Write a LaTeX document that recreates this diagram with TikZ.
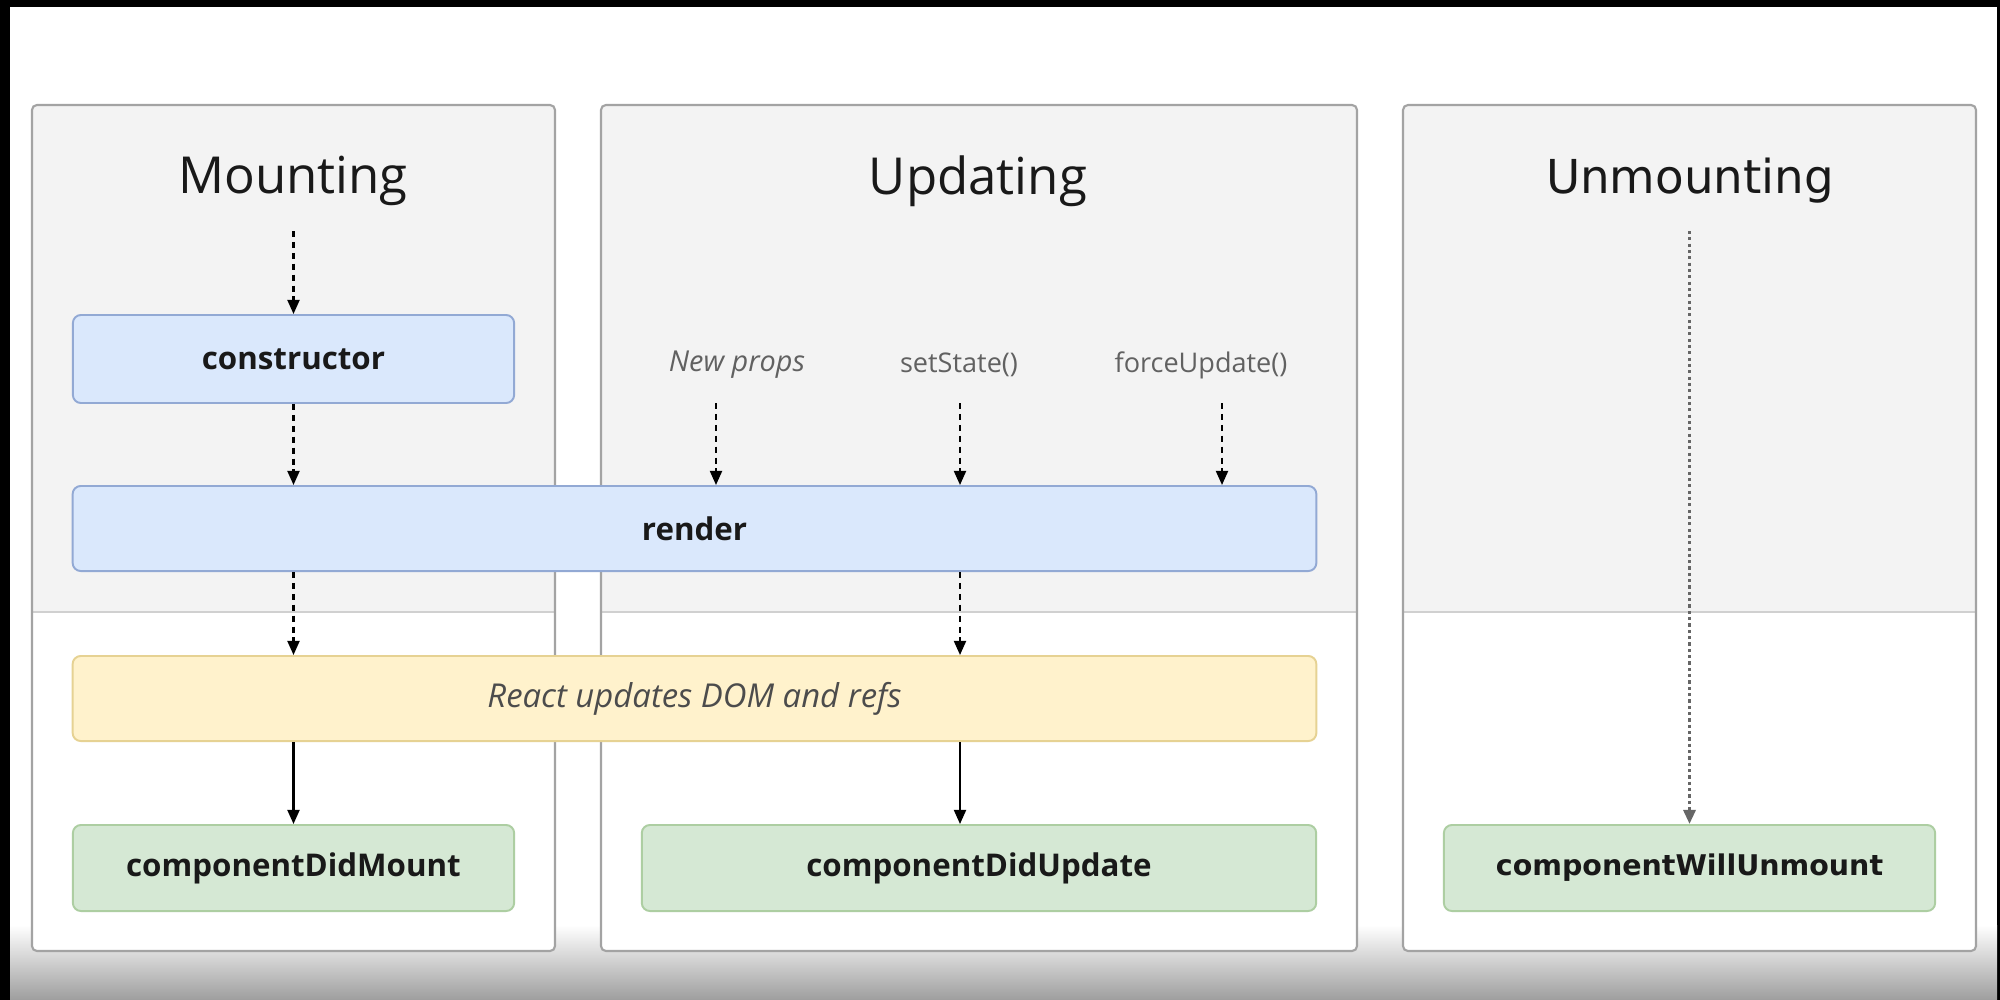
\documentclass[tikz,border=0pt]{standalone}
\usepackage{fontspec}
\setmainfont{Open Sans}
\newfontfamily\widesans{DejaVu Sans}
\usetikzlibrary{arrows.meta}

\definecolor{panelgray}{HTML}{F3F3F3}
\definecolor{paneledge}{HTML}{A3A3A3}
\definecolor{panelsplit}{HTML}{D0D0D0}
\definecolor{lifeblue}{HTML}{DAE8FC}
\definecolor{lifeblueedge}{HTML}{92A9D4}
\definecolor{lifeyellow}{HTML}{FFF2CC}
\definecolor{lifeyellowedge}{HTML}{E6D293}
\definecolor{lifegreen}{HTML}{D5E8D4}
\definecolor{lifegreenedge}{HTML}{ADCEA2}

\begin{document}
\begin{tikzpicture}[x=0.01cm, y=-0.01cm,
    phasetitle/.style={font=\fontsize{14.5}{17}\selectfont, text=black!90},
    triggerlabel/.style={font=\fontsize{7.7}{10}\selectfont, text=black!62},
    hookbox/.style={draw, rounded corners=2.3pt, line width=0.55pt, inner sep=0pt,
        font=\bfseries\fontsize{8.9}{10}\selectfont, text=black!90},
    bluebox/.style={hookbox, fill=lifeblue, draw=lifeblueedge},
    yellowbox/.style={hookbox, fill=lifeyellow, draw=lifeyellowedge},
    greenbox/.style={hookbox, fill=lifegreen, draw=lifegreenedge},
    flowarrow/.style={-{Triangle[length=4pt,width=3.4pt]}, line width=0.6pt, dash pattern=on 1.8pt off 1.3pt},
    solidarrow/.style={-{Triangle[length=4pt,width=3.4pt]}, line width=0.6pt},
    dotarrow/.style={-{Triangle[length=4pt,width=3.4pt]}, line width=0.9pt, black!60, dash pattern=on 0.9pt off 0.9pt}]

    % Screen frame
    \fill[black] (0,0) rectangle (2000,1000);
    \fill[white] (10,7) rectangle (1997,1000);
    \shade[top color=white, bottom color=black!38] (10,925) rectangle (1997,1000);

    % Phase panels
    \foreach \xa/\xb in {32/555, 601/1357, 1403/1976} {
        \begin{scope}
            \clip[rounded corners=1.4pt] (\xa,105) rectangle (\xb,951);
            \fill[white] (\xa,105) rectangle (\xb,951);
            \fill[panelgray] (\xa,105) rectangle (\xb,612);
        \end{scope}
        \draw[panelsplit, line width=0.6pt] (\xa,612) -- (\xb,612);
        \draw[paneledge, line width=0.6pt, rounded corners=1.4pt] (\xa,105) rectangle (\xb,951);
    }

    % Titles
    \node[phasetitle] (mounting) at (293,181) {Mounting};
    \node[phasetitle] (updating) at (978,181) {Updating};
    \node[phasetitle, font=\widesans\fontsize{13.3}{16}\selectfont] (unmounting) at (1690,181) {Unmounting};

    % Triggers
    \node[triggerlabel, font=\itshape\fontsize{8.2}{10}\selectfont] (newprops) at (737,365) {New props};
    \node[triggerlabel] (setstate) at (959,365) {setState()};
    \node[triggerlabel] (forceupdate) at (1201,365) {forceUpdate()};

    % Lifecycle boxes
    \node[bluebox, minimum width=4.41cm, minimum height=0.88cm] (constructor) at (293.5,359) {constructor};
    \node[bluebox, minimum width=12.43cm, minimum height=0.85cm] (render) at (694.5,528.5) {render};
    \node[yellowbox, minimum width=12.43cm, minimum height=0.85cm,
          font=\itshape\fontsize{9.35}{11}\selectfont, text=black!70] (domupdate) at (694.5,698.5) {React updates DOM and refs};
    \node[greenbox, minimum width=4.41cm, minimum height=0.86cm] (didmount) at (293.5,868) {componentDidMount};
    \node[greenbox, minimum width=6.74cm, minimum height=0.86cm] (didupdate) at (979,868) {componentDidUpdate};
    \node[greenbox, minimum width=4.91cm, minimum height=0.86cm,
          font=\widesans\bfseries\fontsize{8.1}{10}\selectfont] (willunmount) at (1689.5,868) {componentWillUnmount};

    % Arrow starts
    \coordinate (mountstart) at (293.5,231);
    \coordinate (propsstart) at (716,403);
    \coordinate (statestart) at (960,403);
    \coordinate (forcestart) at (1222,403);
    \coordinate (unmountstart) at (1689.5,231);

    % Mounting flow
    \draw[flowarrow] (mountstart) -- (constructor.north);
    \draw[flowarrow] (constructor.south) -- (constructor.south |- render.north);
    \draw[flowarrow] (render.south -| constructor.south) -- (domupdate.north -| constructor.south);
    \draw[solidarrow] (domupdate.south -| didmount.north) -- (didmount.north);

    % Updating flow
    \draw[flowarrow] (propsstart) -- (propsstart |- render.north);
    \draw[flowarrow] (statestart) -- (statestart |- render.north);
    \draw[flowarrow] (forcestart) -- (forcestart |- render.north);
    \draw[flowarrow] (render.south -| statestart) -- (domupdate.north -| statestart);
    \draw[solidarrow] (domupdate.south -| statestart) -- (didupdate.north -| statestart);

    % Unmounting flow
    \draw[dotarrow] (unmountstart) -- (willunmount.north);
\end{tikzpicture}
\end{document}
